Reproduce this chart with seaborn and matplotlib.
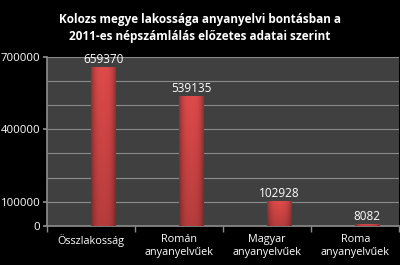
import matplotlib
matplotlib.use("Agg")
import matplotlib.pyplot as plt
import seaborn as sns
import pandas as pd
import numpy as np

categories = ["Összlakosság", "Román\nanyanyelvűek", "Magyar\nanyanyelvűek", "Roma\nanyanyelvűek"]
values = [659370, 539135, 102928, 8082]
y_ticks = [0, 100000, 400000, 700000]
title = "Kolozs megye lakossága anyanyelvi bontásban a\n2011-es népszámlálás előzetes adatai szerint"

sns.set_theme(style="dark")
plt.rcParams['font.family'] = ['Open Sans', 'DejaVu Sans']

df = pd.DataFrame({
    "cat": categories * 2,
    "val": [np.nan] * len(values) + values,
    "ser": ["_"] * len(values) + ["Lakosság"] * len(values),
})

fig = plt.figure(figsize=(4.0, 2.65), dpi=100, facecolor="black")
ax = fig.add_axes([0.118, 0.148, 0.880, 0.637])
ax.set_facecolor("#404040")

sns.barplot(data=df, x="cat", y="val", hue="ser", hue_order=["_", "Lakosság"],
            palette=["#d44343", "#d44343"], saturation=1, width=0.55, dodge=True,
            edgecolor="#9c2a2a", linewidth=0.6, legend=False, ax=ax, zorder=3)

ax.set_ylim(0, 700000)
ax.set_xlim(-0.5, len(categories) - 0.5)

# cylinder-like shading clipped to each bar
prof = np.linspace(-1, 1, 64)
shade = 1 - 0.35 * np.abs(prof) ** 3
top = np.array([0.87, 0.29, 0.29])
for p in ax.patches:
    h = p.get_height()
    if not np.isfinite(h) or h <= 0:
        continue
    x0 = p.get_x(); w = p.get_width()
    n = 32
    vert = np.linspace(0.82, 1.0, n)[:, None]
    img = (top[None, None, :] * shade[None, :, None] * vert[:, :, None])
    im = ax.imshow(np.clip(img, 0, 1), extent=(x0, x0 + w, 0, h), origin="lower",
                   aspect="auto", zorder=3.5, interpolation="bilinear")
    im.set_clip_path(p)
ax.set_xlim(-0.5, len(categories) - 0.5)
ax.set_ylim(0, 700000)

for v in range(0, 700001, 100000):
    ax.axhline(v, color="#8a8a8a", lw=0.8, zorder=1)
ax.set_yticks(y_ticks)
ax.set_yticklabels([str(t) for t in y_ticks], color="white", fontsize=8.2)
ax.set_xticks(range(len(categories)))
ax.set_xticklabels(categories, color="white", fontsize=7.8)
ax.tick_params(axis="x", length=0, pad=6)
ax.tick_params(axis="y", length=3, color="#8a8a8a", pad=2, direction="out", left=True)
ax.set_xticks(np.arange(-0.5, len(categories), 1), minor=True)
ax.tick_params(axis="x", which="minor", length=4, color="#8a8a8a", direction="out", bottom=True)
for s in ["top", "right"]:
    ax.spines[s].set_visible(False)
ax.spines["left"].set_color("#8a8a8a")
ax.spines["bottom"].set_color("#8a8a8a")
ax.set_xlabel("")
ax.set_ylabel("")

for i, v in enumerate(values):
    ax.text(i + 0.1375, v + 5000, str(v), ha="center", va="bottom", color="white", fontsize=8.5, zorder=4)

fig.text(0.5, 0.895, title, ha="center", va="center", color="white", fontsize=8.5,
         fontweight="bold", linespacing=1.45)

fig.savefig("out.png", dpi=100, facecolor="black")
